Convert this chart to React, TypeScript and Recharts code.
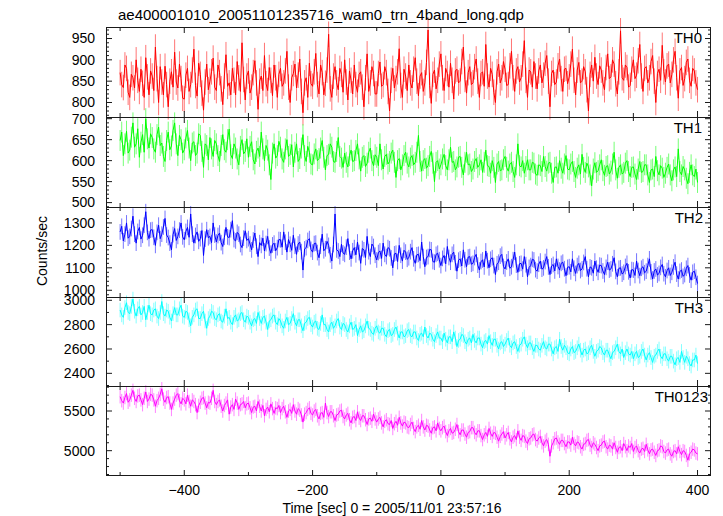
import React from "react";
import { LineChart, Line, XAxis, YAxis, ErrorBar } from "recharts";

// time bins (sec from 2005/11/01 23:57:16), 2.5 s each
const TIME = [
  -500, -497.5, -495, -492.5, -490, -487.5, -485, -482.5, -480, -477.5, -475, -472.5, -470, -467.5, -465, -462.5, -460, -457.5, -455, -452.5,
  -450, -447.5, -445, -442.5, -440, -437.5, -435, -432.5, -430, -427.5, -425, -422.5, -420, -417.5, -415, -412.5, -410, -407.5, -405, -402.5,
  -400, -397.5, -395, -392.5, -390, -387.5, -385, -382.5, -380, -377.5, -375, -372.5, -370, -367.5, -365, -362.5, -360, -357.5, -355, -352.5,
  -350, -347.5, -345, -342.5, -340, -337.5, -335, -332.5, -330, -327.5, -325, -322.5, -320, -317.5, -315, -312.5, -310, -307.5, -305, -302.5,
  -300, -297.5, -295, -292.5, -290, -287.5, -285, -282.5, -280, -277.5, -275, -272.5, -270, -267.5, -265, -262.5, -260, -257.5, -255, -252.5,
  -250, -247.5, -245, -242.5, -240, -237.5, -235, -232.5, -230, -227.5, -225, -222.5, -220, -217.5, -215, -212.5, -210, -207.5, -205, -202.5,
  -200, -197.5, -195, -192.5, -190, -187.5, -185, -182.5, -180, -177.5, -175, -172.5, -170, -167.5, -165, -162.5, -160, -157.5, -155, -152.5,
  -150, -147.5, -145, -142.5, -140, -137.5, -135, -132.5, -130, -127.5, -125, -122.5, -120, -117.5, -115, -112.5, -110, -107.5, -105, -102.5,
  -100, -97.5, -95, -92.5, -90, -87.5, -85, -82.5, -80, -77.5, -75, -72.5, -70, -67.5, -65, -62.5, -60, -57.5, -55, -52.5,
  -50, -47.5, -45, -42.5, -40, -37.5, -35, -32.5, -30, -27.5, -25, -22.5, -20, -17.5, -15, -12.5, -10, -7.5, -5, -2.5,
  0, 2.5, 5, 7.5, 10, 12.5, 15, 17.5, 20, 22.5, 25, 27.5, 30, 32.5, 35, 37.5, 40, 42.5, 45, 47.5,
  50, 52.5, 55, 57.5, 60, 62.5, 65, 67.5, 70, 72.5, 75, 77.5, 80, 82.5, 85, 87.5, 90, 92.5, 95, 97.5,
  100, 102.5, 105, 107.5, 110, 112.5, 115, 117.5, 120, 122.5, 125, 127.5, 130, 132.5, 135, 137.5, 140, 142.5, 145, 147.5,
  150, 152.5, 155, 157.5, 160, 162.5, 165, 167.5, 170, 172.5, 175, 177.5, 180, 182.5, 185, 187.5, 190, 192.5, 195, 197.5,
  200, 202.5, 205, 207.5, 210, 212.5, 215, 217.5, 220, 222.5, 225, 227.5, 230, 232.5, 235, 237.5, 240, 242.5, 245, 247.5,
  250, 252.5, 255, 257.5, 260, 262.5, 265, 267.5, 270, 272.5, 275, 277.5, 280, 282.5, 285, 287.5, 290, 292.5, 295, 297.5,
  300, 302.5, 305, 307.5, 310, 312.5, 315, 317.5, 320, 322.5, 325, 327.5, 330, 332.5, 335, 337.5, 340, 342.5, 345, 347.5,
  350, 352.5, 355, 357.5, 360, 362.5, 365, 367.5, 370, 372.5, 375, 377.5, 380, 382.5, 385, 387.5, 390, 392.5, 395, 397.5,
  400,
];

const TH0 = [
  870, 842, 835, 888, 880, 824, 812, 866, 858, 834, 900, 852, 826, 878, 845, 812, 905, 860, 818, 874,
  862, 828, 930, 856, 800, 884, 848, 818, 885, 842, 790, 850, 872, 836, 918, 848, 834, 890, 856, 810,
  808, 864, 880, 826, 842, 876, 925, 840, 815, 892, 866, 822, 782, 848, 890, 830, 850, 872, 904, 836,
  828, 888, 870, 832, 795, 862, 912, 838, 846, 818, 880, 852, 818, 896, 858, 826, 940, 854, 806, 862,
  874, 822, 836, 870, 898, 846, 784, 850, 862, 828, 910, 844, 828, 882, 852, 816, 888, 858, 812, 866,
  880, 838, 846, 874, 920, 836, 800, 858, 868, 890, 834, 864, 902, 826, 776, 846, 858, 812, 892, 844,
  838, 872, 915, 842, 820, 888, 870, 818, 845, 876, 960, 832, 812, 862, 884, 846, 830, 880, 866, 824,
  900, 848, 806, 874, 852, 820, 888, 842, 824, 866, 872, 836, 790, 858, 914, 826, 846, 884, 868, 820,
  820, 868, 895, 838, 842, 884, 870, 826, 780, 852, 880, 834, 856, 872, 926, 840, 812, 878, 862, 828,
  888, 846, 834, 878, 905, 850, 816, 862, 870, 826, 846, 894, 970, 840, 798, 866, 876, 832, 852, 890,
  914, 858, 828, 880, 868, 836, 892, 852, 808, 874, 878, 846, 850, 896, 930, 854, 822, 870, 884, 842,
  846, 884, 902, 850, 812, 868, 872, 838, 936, 862, 836, 880, 866, 824, 800, 872, 890, 846, 858, 896,
  878, 840, 842, 886, 920, 858, 826, 874, 884, 848, 858, 890, 945, 852, 812, 876, 872, 836, 896, 862,
  832, 874, 888, 846, 864, 892, 910, 850, 790, 868, 876, 842, 848, 886, 902, 856, 826, 878, 880, 844,
  860, 890, 925, 852, 818, 876, 894, 846, 850, 884, 872, 830, 780, 866, 888, 850, 906, 862, 842, 886,
  876, 846, 830, 882, 914, 856, 860, 900, 890, 844, 820, 872, 968, 858, 852, 888, 882, 836, 840, 878,
  900, 856, 864, 898, 936, 862, 826, 880, 884, 846, 858, 896, 910, 850, 800, 868, 878, 852, 934, 872,
  848, 886, 890, 846, 866, 900, 920, 858, 810, 874, 882, 840, 856, 894, 902, 852, 838, 880, 874, 846,
  830,
];

const TH1 = [
  648, 668, 612, 640, 670, 618, 625, 656, 690, 632, 640, 676, 608, 644, 662, 620, 700, 652, 630, 664,
  655, 628, 620, 662, 680, 636, 642, 610, 598, 648, 668, 626, 635, 672, 690, 640, 612, 660, 650, 618,
  626, 654, 672, 630, 600, 642, 645, 612, 618, 664, 660, 622, 584, 640, 636, 602, 655, 628, 610, 648,
  640, 612, 598, 636, 662, 626, 620, 650, 675, 614, 605, 640, 630, 604, 590, 634, 650, 616, 622, 652,
  608, 634, 645, 602, 592, 622, 630, 610, 668, 628, 600, 636, 625, 590, 555, 618, 640, 606, 612, 646,
  632, 604, 596, 628, 650, 610, 615, 638, 585, 620, 640, 598, 605, 630, 662, 612, 598, 634, 620, 592,
  590, 616, 628, 600, 605, 630, 648, 608, 578, 612, 615, 640, 632, 598, 596, 622, 655, 610, 606, 584,
  618, 596, 585, 612, 625, 598, 600, 624, 640, 604, 575, 608, 612, 586, 594, 620, 630, 600, 588, 614,
  608, 588, 640, 602, 580, 610, 615, 592, 598, 618, 625, 596, 560, 600, 605, 578, 590, 612, 620, 594,
  585, 606, 612, 590, 596, 620, 660, 598, 575, 600, 605, 582, 588, 610, 622, 594, 550, 596, 600, 580,
  590, 604, 615, 588, 578, 602, 632, 596, 598, 578, 585, 608, 610, 584, 566, 596, 620, 590, 592, 574,
  580, 598, 605, 584, 590, 602, 572, 596, 625, 588, 586, 570, 600, 584, 548, 592, 598, 576, 578, 602,
  610, 584, 575, 592, 596, 574, 560, 590, 640, 588, 585, 600, 570, 586, 602, 578, 578, 596, 594, 568,
  565, 590, 588, 574, 610, 586, 575, 594, 596, 570, 548, 584, 585, 570, 600, 582, 570, 592, 612, 580,
  578, 592, 598, 574, 560, 582, 590, 568, 615, 584, 572, 594, 585, 566, 540, 580, 595, 572, 576, 590,
  602, 576, 565, 586, 588, 568, 575, 592, 620, 578, 558, 584, 590, 568, 572, 594, 600, 574, 562, 584,
  585, 568, 555, 580, 598, 572, 574, 590, 590, 566, 548, 578, 580, 562, 610, 576, 566, 588, 582, 560,
  570, 584, 592, 566, 552, 578, 585, 562, 628, 574, 566, 586, 578, 558, 545, 572, 590, 566, 562, 580,
  548,
];

const TH2 = [
  1260, 1285, 1220, 1250, 1300, 1232, 1240, 1275, 1330, 1250, 1210, 1262, 1280, 1228, 1245, 1290, 1350, 1258, 1230, 1268,
  1270, 1236, 1200, 1258, 1290, 1230, 1250, 1282, 1320, 1246, 1235, 1210, 1180, 1248, 1275, 1222, 1240, 1268, 1300, 1238,
  1225, 1262, 1280, 1236, 1340, 1250, 1210, 1244, 1260, 1218, 1230, 1266, 1155, 1228, 1270, 1234, 1240, 1212, 1300, 1246,
  1215, 1244, 1255, 1212, 1195, 1236, 1280, 1238, 1235, 1270, 1310, 1226, 1220, 1258, 1250, 1204, 1190, 1232, 1265, 1222,
  1230, 1206, 1180, 1224, 1255, 1196, 1150, 1212, 1200, 1232, 1175, 1208, 1240, 1188, 1165, 1202, 1210, 1176, 1190, 1226,
  1225, 1192, 1260, 1214, 1170, 1226, 1205, 1178, 1245, 1196, 1160, 1206, 1215, 1172, 1090, 1184, 1190, 1222, 1230, 1182,
  1170, 1208, 1210, 1168, 1145, 1196, 1250, 1176, 1185, 1218, 1200, 1158, 1130, 1204, 1340, 1180, 1175, 1150, 1205, 1166,
  1160, 1192, 1230, 1170, 1140, 1176, 1190, 1158, 1215, 1168, 1120, 1186, 1180, 1146, 1240, 1172, 1150, 1206, 1195, 1156,
  1135, 1168, 1175, 1142, 1210, 1160, 1150, 1190, 1185, 1144, 1100, 1162, 1165, 1128, 1200, 1156, 1130, 1178, 1170, 1138,
  1145, 1172, 1190, 1140, 1120, 1158, 1160, 1132, 1215, 1150, 1105, 1146, 1150, 1182, 1180, 1128, 1125, 1160, 1165, 1136,
  1110, 1142, 1155, 1118, 1195, 1146, 1125, 1160, 1170, 1122, 1085, 1134, 1140, 1108, 1180, 1136, 1105, 1148, 1150, 1116,
  1120, 1146, 1160, 1112, 1090, 1128, 1135, 1104, 1175, 1132, 1100, 1138, 1145, 1110, 1070, 1118, 1125, 1152, 1160, 1106,
  1095, 1126, 1140, 1098, 1105, 1136, 1170, 1112, 1080, 1118, 1120, 1094, 1150, 1114, 1060, 1102, 1110, 1138, 1135, 1092,
  1085, 1116, 1130, 1094, 1100, 1128, 1150, 1104, 1070, 1108, 1115, 1086, 1140, 1106, 1090, 1120, 1125, 1096, 1065, 1102,
  1105, 1082, 1140, 1098, 1075, 1110, 1120, 1088, 1095, 1124, 1150, 1096, 1060, 1104, 1100, 1076, 1130, 1098, 1080, 1112,
  1110, 1086, 1070, 1102, 1125, 1090, 1095, 1118, 1145, 1084, 1060, 1098, 1100, 1072, 1080, 1106, 1120, 1082, 1055, 1092,
  1090, 1066, 1130, 1088, 1065, 1098, 1105, 1078, 1085, 1110, 1140, 1082, 1050, 1086, 1095, 1068, 1075, 1102, 1115, 1074,
  1060, 1088, 1100, 1066, 1080, 1104, 1125, 1072, 1050, 1084, 1090, 1062, 1070, 1098, 1110, 1068, 1045, 1080, 1085, 1058,
  1030,
];

const TH3 = [
  2920, 2880, 2860, 2940, 2980, 2900, 2890, 2950, 3010, 2910, 2870, 2930, 2950, 2880, 2900, 2950, 2840, 2900, 2960, 2890,
  2880, 2920, 2930, 2870, 2850, 2900, 2990, 2890, 2870, 2920, 2910, 2860, 2830, 2890, 2940, 2880, 2880, 2930, 2960, 2870,
  2860, 2910, 2900, 2840, 2790, 2860, 2880, 2920, 2930, 2850, 2850, 2890, 2910, 2830, 2770, 2850, 2870, 2910, 2900, 2850,
  2840, 2880, 2890, 2830, 2820, 2870, 2930, 2850, 2860, 2820, 2800, 2860, 2880, 2830, 2840, 2890, 2900, 2840, 2820, 2870,
  2860, 2820, 2790, 2840, 2850, 2810, 2900, 2850, 2810, 2860, 2870, 2820, 2760, 2830, 2840, 2870, 2880, 2820, 2800, 2850,
  2830, 2790, 2770, 2830, 2860, 2800, 2810, 2850, 2890, 2820, 2790, 2840, 2840, 2790, 2750, 2810, 2820, 2850, 2860, 2800,
  2780, 2820, 2830, 2770, 2760, 2810, 2880, 2800, 2800, 2760, 2740, 2800, 2820, 2770, 2790, 2830, 2850, 2780, 2760, 2810,
  2800, 2760, 2740, 2790, 2820, 2760, 2770, 2800, 2710, 2760, 2790, 2740, 2750, 2790, 2830, 2770, 2760, 2730, 2720, 2770,
  2790, 2740, 2730, 2770, 2770, 2720, 2700, 2750, 2760, 2710, 2720, 2760, 2780, 2730, 2690, 2740, 2740, 2700, 2710, 2750,
  2760, 2710, 2700, 2740, 2740, 2690, 2670, 2720, 2730, 2700, 2780, 2710, 2690, 2730, 2720, 2680, 2660, 2710, 2740, 2690,
  2690, 2660, 2730, 2680, 2650, 2700, 2700, 2660, 2740, 2690, 2620, 2670, 2680, 2720, 2710, 2660, 2640, 2680, 2690, 2650,
  2720, 2670, 2650, 2690, 2690, 2640, 2610, 2660, 2670, 2640, 2710, 2660, 2630, 2680, 2680, 2630, 2600, 2650, 2660, 2620,
  2640, 2670, 2690, 2630, 2610, 2650, 2660, 2620, 2580, 2630, 2640, 2680, 2700, 2640, 2610, 2650, 2650, 2610, 2580, 2630,
  2630, 2600, 2590, 2630, 2660, 2610, 2600, 2640, 2640, 2600, 2560, 2610, 2620, 2580, 2680, 2620, 2590, 2630, 2610, 2570,
  2560, 2600, 2620, 2570, 2580, 2610, 2640, 2590, 2550, 2590, 2600, 2560, 2570, 2610, 2630, 2580, 2540, 2580, 2590, 2620,
  2610, 2570, 2550, 2590, 2590, 2550, 2520, 2570, 2580, 2610, 2640, 2580, 2560, 2600, 2530, 2570, 2600, 2560, 2550, 2580,
  2520, 2560, 2580, 2530, 2540, 2580, 2600, 2550, 2510, 2550, 2570, 2530, 2490, 2540, 2550, 2580, 2600, 2540, 2520, 2560,
  2560, 2520, 2500, 2540, 2540, 2500, 2470, 2520, 2530, 2490, 2580, 2530, 2490, 2540, 2520, 2480, 2460, 2510, 2510, 2550,
  2480,
];

const TH0123 = [
  5680, 5630, 5600, 5670, 5720, 5610, 5640, 5700, 5760, 5660, 5620, 5690, 5700, 5640, 5580, 5660, 5740, 5620, 5650, 5710,
  5700, 5640, 5560, 5630, 5660, 5710, 5780, 5650, 5610, 5670, 5680, 5600, 5520, 5600, 5650, 5700, 5720, 5630, 5590, 5660,
  5640, 5590, 5700, 5620, 5560, 5640, 5620, 5580, 5480, 5570, 5610, 5660, 5670, 5600, 5540, 5610, 5600, 5660, 5760, 5620,
  5580, 5620, 5640, 5560, 5500, 5570, 5600, 5640, 5460, 5550, 5580, 5520, 5650, 5600, 5520, 5580, 5590, 5620, 5540, 5590,
  5600, 5540, 5480, 5550, 5560, 5500, 5620, 5560, 5500, 5570, 5440, 5520, 5550, 5490, 5590, 5530, 5470, 5540, 5530, 5570,
  5480, 5530, 5560, 5490, 5420, 5500, 5520, 5470, 5580, 5500, 5460, 5530, 5510, 5450, 5360, 5460, 5480, 5520, 5540, 5470,
  5450, 5500, 5520, 5440, 5400, 5470, 5480, 5420, 5600, 5480, 5430, 5490, 5490, 5440, 5380, 5450, 5460, 5500, 5510, 5430,
  5400, 5450, 5470, 5390, 5350, 5420, 5430, 5380, 5490, 5410, 5380, 5440, 5440, 5390, 5330, 5400, 5410, 5370, 5460, 5400,
  5360, 5400, 5420, 5350, 5300, 5370, 5390, 5340, 5330, 5380, 5280, 5340, 5370, 5320, 5420, 5350, 5310, 5360, 5350, 5300,
  5290, 5330, 5360, 5280, 5240, 5300, 5320, 5270, 5380, 5300, 5260, 5320, 5310, 5260, 5220, 5290, 5300, 5250, 5350, 5280,
  5250, 5290, 5310, 5240, 5190, 5250, 5280, 5220, 5230, 5270, 5330, 5240, 5200, 5260, 5260, 5210, 5170, 5230, 5240, 5290,
  5290, 5230, 5200, 5250, 5250, 5190, 5140, 5200, 5230, 5180, 5280, 5220, 5180, 5230, 5220, 5170, 5120, 5180, 5210, 5240,
  5160, 5200, 5230, 5150, 5110, 5170, 5190, 5140, 5250, 5170, 5130, 5190, 5180, 5120, 5090, 5150, 5160, 5200, 5210, 5140,
  5120, 5160, 5180, 5100, 5060, 5120, 5140, 5080, 4930, 5060, 5100, 5150, 5160, 5110, 5080, 5130, 5130, 5090, 5050, 5110,
  5110, 5070, 5170, 5090, 5060, 5110, 5100, 5050, 5020, 5080, 5090, 5130, 5140, 5070, 5040, 5100, 5080, 5040, 5000, 5060,
  5070, 5110, 5120, 5050, 5020, 5070, 5060, 5020, 5100, 5040, 4980, 5040, 5050, 5000, 5090, 5050, 5000, 5060, 5040, 5090,
  4990, 5040, 5060, 5000, 4970, 5020, 5030, 4990, 5080, 5010, 4960, 5010, 5020, 4980, 4940, 5000, 5010, 5060, 5050, 4990,
  4970, 5010, 5020, 4960, 4930, 4990, 5000, 4960, 5050, 4990, 4950, 5000, 4990, 4940, 4880, 4960, 4980, 5020, 5010, 4970,
  4960,
];

// approximate 1-sigma error of each band (counts/sec)
const TH0_ERR = 30;
const TH1_ERR = 25;
const TH2_ERR = 35;
const TH3_ERR = 60;
const TH0123_ERR = 85;

const X_TICKS = [-500, -400, -300, -200, -100, 0, 100, 200, 300, 400];
const TH0_TICKS = [770, 780, 790, 800, 810, 820, 830, 840, 850, 860, 870, 880, 890, 900, 910, 920, 930, 940, 950, 960, 970];
const TH1_TICKS = [490, 500, 510, 520, 530, 540, 550, 560, 570, 580, 590, 600, 610, 620, 630, 640, 650, 660, 670, 680, 690, 700];
const TH2_TICKS = [980, 1000, 1020, 1040, 1060, 1080, 1100, 1120, 1140, 1160, 1180, 1200, 1220, 1240, 1260, 1280, 1300, 1320, 1340, 1360];
const TH3_TICKS = [2300, 2400, 2500, 2600, 2700, 2800, 2900, 3000];
const TH0123_TICKS = [4700, 4800, 4900, 5000, 5100, 5200, 5300, 5400, 5500, 5600, 5700, 5800];

const FONT = '"Liberation Sans", Arial, Helvetica, sans-serif';
const W = 723;
const PLOT_L = 106;
const PLOT_R = 711;
const X_DOMAIN: [number, number] = [-522, 421];
const AX = "#1a1a1a";

interface Panel {
  name: string;
  values: number[];
  err: number;
  color: string;
  light: string;
  domain: [number, number];
  ticks: number[];
  major: number;
  top: number;
  height: number;
  labelRight: number;
}

const PANELS: Panel[] = [
  { name: "TH0", values: TH0, err: TH0_ERR, color: "#ff0000", light: "#ff7575", domain: [766, 977], ticks: TH0_TICKS, major: 50, top: 27, height: 90, labelRight: 702 },
  { name: "TH1", values: TH1, err: TH1_ERR, color: "#00ff00", light: "#75ff75", domain: [489.5, 704], ticks: TH1_TICKS, major: 50, top: 117, height: 90, labelRight: 702 },
  { name: "TH2", values: TH2, err: TH2_ERR, color: "#0000ff", light: "#7575ff", domain: [970, 1371], ticks: TH2_TICKS, major: 100, top: 207, height: 90, labelRight: 703 },
  { name: "TH3", values: TH3, err: TH3_ERR, color: "#00ffff", light: "#85ffff", domain: [2296, 3027], ticks: TH3_TICKS, major: 200, top: 297, height: 89, labelRight: 703 },
  { name: "TH0123", values: TH0123, err: TH0123_ERR, color: "#ff00ff", light: "#ff85ff", domain: [4681, 5815], ticks: TH0123_TICKS, major: 500, top: 386, height: 90, labelRight: 708 },
];

const tickText = { fontFamily: FONT, fontSize: 14, fill: "#000" };

// axes get a 1px slot (recharts skips zero-size axes), so the plot area starts at y=1
function yTick(major: number, side: "l" | "r") {
  return (props: any) => {
    const { y, payload } = props;
    const v = payload.value as number;
    const isMajor = v % major === 0;
    const len = isMajor ? 6 : 3;
    if (side === "r") {
      return <line x1={PLOT_R} x2={PLOT_R - len} y1={y} y2={y} stroke={AX} />;
    }
    return (
      <g>
        <line x1={PLOT_L} x2={PLOT_L + len} y1={y} y2={y} stroke={AX} />
        {isMajor && (
          <text x={PLOT_L - 11} y={y} dy="0.35em" textAnchor="end" style={tickText}>
            {v}
          </text>
        )}
      </g>
    );
  };
}

function xTick(side: "b" | "t", h: number, labels: boolean) {
  return (props: any) => {
    const { x, payload } = props;
    const v = payload.value as number;
    const isMajor = v % 200 === 0;
    const len = isMajor ? 6 : 4;
    const y0 = side === "b" ? h + 1 : 1;
    const y1 = side === "b" ? y0 - len : y0 + len;
    return (
      <g>
        <line x1={x} x2={x} y1={y0} y2={y1} stroke={AX} />
        {labels && isMajor && (
          <text x={x} y={h + 20} textAnchor="middle" style={tickText}>
            {v < 0 ? `\u2212${-v}` : v}
          </text>
        )}
      </g>
    );
  };
}

function PanelChart({ p, last }: { p: Panel; last: boolean }) {
  const rows = TIME.map((t, i) => ({ t, v: p.values[i], e: p.err }));
  const extra = last ? 40 : 0;
  const h = p.height + 2 + extra;
  return (
    <div style={{ position: "absolute", left: 0, top: p.top - 1, width: W, height: h }}>
      <LineChart width={W} height={h} data={rows} margin={{ top: 0, right: W - PLOT_R - 1, bottom: extra, left: 0 }}>
        <XAxis
          xAxisId="b"
          type="number"
          dataKey="t"
          domain={X_DOMAIN}
          allowDataOverflow
          ticks={X_TICKS}
          interval={0}
          height={1}
          axisLine={false}
          tickLine={false}
          tickSize={0}
          tick={xTick("b", p.height, last)}
        />
        <XAxis
          xAxisId="t"
          orientation="top"
          type="number"
          dataKey="t"
          domain={X_DOMAIN}
          allowDataOverflow
          ticks={X_TICKS}
          interval={0}
          height={1}
          axisLine={false}
          tickLine={false}
          tickSize={0}
          tick={xTick("t", p.height, false)}
        />
        <YAxis
          yAxisId="l"
          type="number"
          domain={p.domain}
          allowDataOverflow
          ticks={p.ticks}
          interval={0}
          width={PLOT_L}
          axisLine={false}
          tickLine={false}
          tickSize={0}
          tick={yTick(p.major, "l")}
        />
        <YAxis
          yAxisId="r"
          orientation="right"
          type="number"
          domain={p.domain}
          allowDataOverflow
          ticks={p.ticks}
          interval={0}
          width={1}
          axisLine={false}
          tickLine={false}
          tickSize={0}
          tick={yTick(p.major, "r")}
        />
        <Line
          xAxisId="b"
          yAxisId="l"
          type="linear"
          dataKey="v"
          stroke={p.color}
          strokeWidth={1}
          dot={false}
          activeDot={false}
          isAnimationActive={false}
        >
          <ErrorBar dataKey="e" width={0} stroke={p.light} strokeWidth={1} direction="y" isAnimationActive={false} />
        </Line>
      </LineChart>
    </div>
  );
}

export default function App() {
  const lastPanel = PANELS[PANELS.length - 1];
  const bottom = lastPanel.top + lastPanel.height;
  return (
    <div style={{ position: "relative", width: W, height: 516, background: "#fff", fontFamily: FONT }}>
      <style>{"body{margin:0}.recharts-surface{overflow:visible}"}</style>
      {PANELS.map((p, i) => (
        <PanelChart key={p.name} p={p} last={i === PANELS.length - 1} />
      ))}
      {/* frame + panel separators */}
      <div
        style={{
          position: "absolute",
          left: PLOT_L,
          top: PANELS[0].top,
          width: PLOT_R - PLOT_L,
          height: bottom - PANELS[0].top,
          border: `1px solid ${AX}`,
          boxSizing: "border-box",
          pointerEvents: "none",
        }}
      />
      {PANELS.slice(1).map((p) => (
        <div
          key={p.name + "-sep"}
          style={{ position: "absolute", left: PLOT_L, top: p.top, width: PLOT_R - PLOT_L, height: 1, background: AX }}
        />
      ))}
      <svg width={W} height={516} style={{ position: "absolute", left: 0, top: 0, pointerEvents: "none" }}>
        <text x={118} y={20} style={{ fontFamily: FONT, fontSize: 15, fill: "#000" }}>
          ae400001010_20051101235716_wam0_trn_4band_long.qdp
        </text>
        {PANELS.map((p) => (
          <text key={p.name} x={p.labelRight} y={p.top + 16} textAnchor="end" style={{ fontFamily: FONT, fontSize: 15, fill: "#000" }}>
            {p.name}
          </text>
        ))}
        <text
          x={42}
          y={251}
          textAnchor="middle"
          transform="rotate(-90 42 251)"
          dy="0.35em"
          style={{ fontFamily: FONT, fontSize: 14, fill: "#000" }}
        >
          Counts/sec
        </text>
        <text x={392} y={513} textAnchor="middle" style={{ fontFamily: FONT, fontSize: 14, fill: "#000" }}>
          Time [sec] 0 = 2005/11/01 23:57:16
        </text>
      </svg>
    </div>
  );
}
